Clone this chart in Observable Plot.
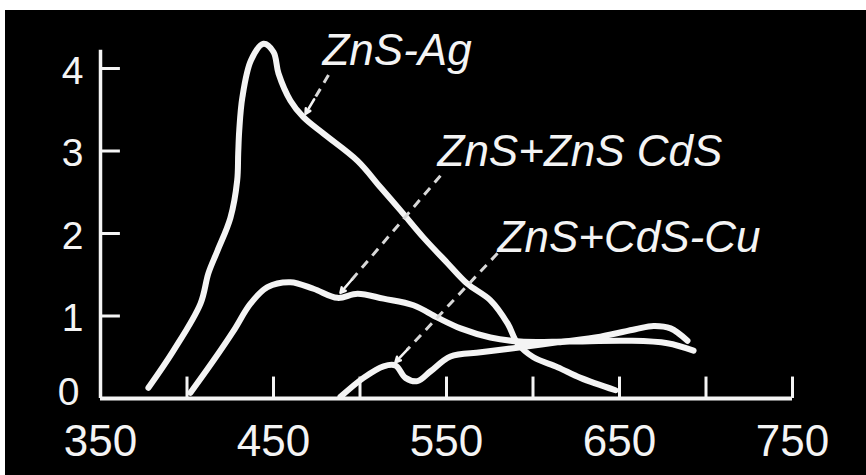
<!DOCTYPE html>
<html><head><meta charset="utf-8">
<script src="https://cdn.jsdelivr.net/npm/d3@7"></script>
<script src="https://cdn.jsdelivr.net/npm/@observablehq/plot@0.6"></script>
<style>
html,body{margin:0;padding:0;background:#fff;overflow:hidden;}
#chart{position:absolute;left:5px;top:10px;width:861px;}
#chart svg{display:block;}
</style></head><body><div id="chart"></div>
<script>
// tick values
const xTickLabels = [350, 450, 550, 650, 750];
const xTickMarks = [400, 450, 500, 550, 600, 650, 700, 750];
const yTickLabels = [1, 2, 3, 4];
const yZeroLabel = [0];
const yTickMarks = [1, 2, 3, 4];

// series: ZnS-Ag
const agNm  = [377.7,392.2,407.8,412.4,417.6,425.1,429.0,429.6,430.2,432.0,437.0,444.2,450.0,452.9,459.8,467.3,478.9,498.6,511.8,523.4,536.7,550.6,562.1,575.4,585.3,591.0,600.3,614.2,627.5,647.7];
const agVal = [0.13,0.58,1.15,1.52,1.79,2.19,2.64,2.97,3.25,3.65,4.10,4.30,4.20,3.94,3.61,3.41,3.21,2.88,2.56,2.28,1.95,1.64,1.39,1.19,0.91,0.67,0.50,0.38,0.25,0.10];
// series: ZnS + ZnS CdS
const mixNm  = [402.0,415.3,426.9,436.7,446.5,459.8,473.1,487.0,498.6,513.6,530.9,544.8,558.1,575.4,592.8,619.4,654.6,677.7,692.8];
const mixVal = [0.07,0.46,0.82,1.15,1.35,1.41,1.33,1.22,1.27,1.21,1.13,0.98,0.85,0.74,0.69,0.69,0.70,0.67,0.58];
// series: ZnS + CdS-Cu
const cuNm  = [488.7,502.0,513.6,520.5,526.3,533.2,540.8,552.3,569.7,588.7,614.2,639.0,659.2,669.7,679.5,689.3];
const cuVal = [0.02,0.25,0.39,0.40,0.25,0.21,0.33,0.51,0.56,0.61,0.68,0.75,0.84,0.88,0.85,0.70];

// labels and pointers
const labelText = ["ZnS-Ag", "ZnS+ZnS CdS", "ZnS+CdS-Cu"];
const labelNm   = [478.3, 544.8, 579.5];
const labelVal  = [4.04, 2.82, 1.77];
const arrowFromNm  = [481.8, 546.5, 579.5];
const arrowFromVal = [3.92, 2.70, 1.76];
const arrowToNm    = [468.5, 488.7, 520.5];
const arrowToVal   = [3.45, 1.28, 0.44];

const W = 861, H = 465, ML = 95, MR = 74, MT = 58, MB = 77;
const xDom = [350, 750], yDom = [0, 4];
const kx = (W - ML - MR) / (xDom[1] - xDom[0]);
const ky = (H - MT - MB) / (yDom[1] - yDom[0]);

const rows = [];
agNm.forEach((d, i) => rows.push({series: "ZnS-Ag", nm: d, v: agVal[i]}));
mixNm.forEach((d, i) => rows.push({series: "ZnS+ZnS CdS", nm: d, v: mixVal[i]}));
cuNm.forEach((d, i) => rows.push({series: "ZnS+CdS-Cu", nm: d, v: cuVal[i]}));

const labels = labelText.map((t, i) => ({t, x: labelNm[i], y: labelVal[i]}));
const arrows = arrowFromNm.map((d, i) => {
  const x1 = d, y1 = arrowFromVal[i], x2 = arrowToNm[i], y2 = arrowToVal[i];
  const lenPx = Math.hypot((x1 - x2) * kx, (y1 - y2) * ky);
  const f = Math.min(0.5, 17 / lenPx);
  return {x1, y1, x2, y2, hx: x2 + (x1 - x2) * f, hy: y2 + (y1 - y2) * f};
});

const ink = "#f4f4f4";
const chart = Plot.plot({
  width: W, height: H,
  marginLeft: ML, marginRight: MR, marginTop: MT, marginBottom: MB,
  style: {background: "#000", color: ink, overflow: "visible"},
  x: {domain: xDom, axis: null},
  y: {domain: yDom, axis: null},
  marks: [
    Plot.ruleY([0], {x1: xDom[0], x2: xDom[1], stroke: ink, strokeWidth: 4}),
    Plot.ruleX([xDom[0]], {y1: 0, y2: 4.22, stroke: ink, strokeWidth: 3.5}),
    Plot.ruleX(xTickMarks, {y1: 0, y2: 0.26, stroke: ink, strokeWidth: 3}),
    Plot.ruleY(yTickMarks, {x1: xDom[0], x2: 361.5, stroke: ink, strokeWidth: 3}),
    Plot.text(xTickLabels, {x: d => d, y: 0, dy: 26, lineAnchor: "top", text: d => String(d),
      fontSize: 44, fontFamily: "Liberation Sans", fill: ink, ariaLabel: "xticklabel"}),
    Plot.text(yTickLabels, {x: xDom[0], y: d => d, dx: -17, dy: 3, textAnchor: "end", lineAnchor: "middle",
      text: d => String(d), fontSize: 39, fontFamily: "Liberation Sans", fill: ink, ariaLabel: "yticklabel"}),
    Plot.text(yZeroLabel, {x: xDom[0], y: d => d, dx: -21, dy: -6, textAnchor: "end", lineAnchor: "middle",
      text: d => String(d), fontSize: 39, fontFamily: "Liberation Sans", fill: ink, ariaLabel: "yticklabel"}),
    Plot.line(rows, {x: "nm", y: "v", z: "series", curve: "catmull-rom", stroke: ink,
      strokeWidth: 6, strokeLinecap: "round", strokeLinejoin: "round"}),
    Plot.link(arrows, {x1: "x1", y1: "y1", x2: "hx", y2: "hy", stroke: "#d8d8d8",
      strokeWidth: 3, strokeDasharray: "9,7"}),
    Plot.arrow(arrows, {x1: "hx", y1: "hy", x2: "x2", y2: "y2", stroke: ink,
      strokeWidth: 2.5, headLength: 16, headAngle: 55}),
    Plot.text(labels, {x: "x", y: "y", text: "t", textAnchor: "start", lineAnchor: "bottom",
      fontSize: 44, fontStyle: "italic", fontFamily: "Liberation Sans", fill: ink})
  ]
});

// narrow the hand-lettered tick numerals horizontally
function squeeze(label, s) {
  d3.select(chart).selectAll(`g[aria-label="${label}"] text`).each(function() {
    let t = this.getAttribute("transform") || "";
    const x = this.getAttribute("x"), y = this.getAttribute("y");
    if (x != null || y != null) {
      t += ` translate(${x || 0},${y || 0})`;
      this.removeAttribute("x"); this.removeAttribute("y");
    }
    this.setAttribute("transform", t + ` scale(${s},1)`);
  });
}
squeeze("xticklabel", 0.75);
squeeze("yticklabel", 0.8);
document.getElementById("chart").appendChild(chart);
</script></body></html>
